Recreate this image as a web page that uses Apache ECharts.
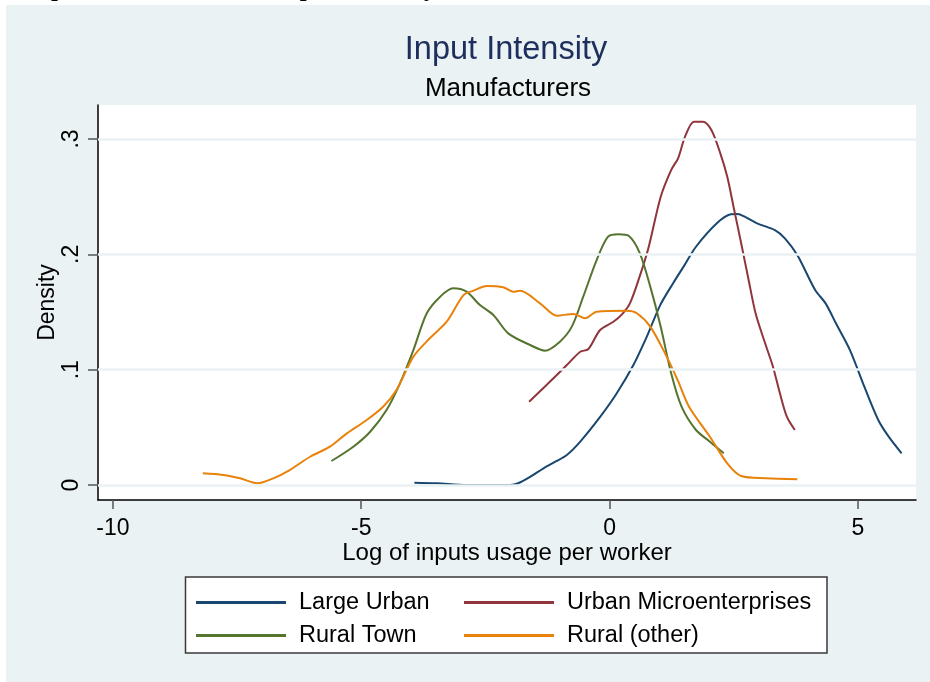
<!DOCTYPE html>
<html>
<head>
<meta charset="utf-8">
<script src="https://cdn.jsdelivr.net/npm/echarts@6/dist/echarts.min.js"></script>
<style>html,body{margin:0;padding:0;background:#fff}#c{width:930px;height:682px}</style>
</head>
<body>
<div id="c"></div>
<script>
const xTicks = [-10, -5, 0, 5];
const yTicks = [0, 0.1, 0.2, 0.3];
const seriesNames = ['Large Urban', 'Urban Microenterprises', 'Rural Town', 'Rural (other)'];
const seriesColors = ['#1A476F', '#90353B', '#55752F', '#E8820A'];

const largeUrban = [[-3.93,0.002],[-3.48,0.0015],[-2.88,0.0],[-2.4,0.0],[-2.0,0.0],[-1.84,0.0015],[-1.6,0.007],[-1.33,0.0145],[-1.1,0.02],[-0.86,0.026],[-0.59,0.0376],[-0.19,0.059],[0.145,0.0795],[0.48,0.104],[0.75,0.1286],[1.02,0.156],[1.28,0.175],[1.5,0.19],[1.74,0.2066],[2.16,0.2269],[2.44,0.2347],[2.58,0.235],[2.72,0.2327],[2.97,0.2269],[3.33,0.2211],[3.53,0.2139],[3.78,0.1994],[4.14,0.169],[4.35,0.1575],[4.56,0.140],[4.84,0.117],[5.13,0.0852],[5.41,0.0564],[5.62,0.0419],[5.88,0.0275]];
const urbanMicro = [[-1.62,0.0722],[-1.13,0.0925],[-0.86,0.104],[-0.59,0.1156],[-0.43,0.1177],[-0.19,0.1344],[0.077,0.1416],[0.25,0.148],[0.41,0.1575],[0.6,0.18],[0.78,0.205],[1.03,0.25],[1.24,0.2731],[1.38,0.2833],[1.52,0.302],[1.70,0.315],[1.88,0.315],[2.05,0.3078],[2.23,0.2876],[2.37,0.2673],[2.51,0.2384],[2.65,0.2096],[2.80,0.1778],[2.94,0.1489],[3.11,0.1257],[3.29,0.1026],[3.43,0.0795],[3.57,0.0592],[3.73,0.0477]];
const ruralTown = [[-5.60,0.0208],[-5.16,0.0332],[-4.82,0.0462],[-4.49,0.065],[-4.22,0.0882],[-3.95,0.117],[-3.68,0.1489],[-3.41,0.1633],[-3.15,0.1705],[-2.88,0.1676],[-2.61,0.156],[-2.34,0.1474],[-2.04,0.1315],[-1.60,0.1214],[-1.30,0.1165],[-1.0,0.1243],[-0.76,0.1373],[-0.53,0.1633],[-0.26,0.195],[-0.03,0.2153],[0.18,0.2174],[0.39,0.2159],[0.61,0.2009],[0.82,0.172],[1.03,0.1373],[1.24,0.0969],[1.45,0.0679],[1.74,0.0477],[2.02,0.0376],[2.30,0.0275]];
const ruralOther = [[-8.19,0.0101],[-7.78,0.0087],[-7.44,0.0058],[-7.09,0.0015],[-6.77,0.0058],[-6.44,0.013],[-6.03,0.0245],[-5.63,0.0332],[-5.29,0.0448],[-4.89,0.0564],[-4.56,0.0679],[-4.29,0.0824],[-3.95,0.1113],[-3.62,0.1272],[-3.28,0.1416],[-2.94,0.1647],[-2.74,0.1685],[-2.47,0.1725],[-2.14,0.1714],[-1.94,0.1676],[-1.80,0.1685],[-1.40,0.1575],[-1.06,0.1468],[-0.73,0.1483],[-0.49,0.1445],[-0.26,0.1503],[0.35,0.1511],[0.55,0.1489],[0.82,0.1373],[1.15,0.1113],[1.38,0.09],[1.60,0.0679],[2.02,0.0419],[2.37,0.0188],[2.65,0.0078],[3.15,0.0058],[3.78,0.0049]];

const seriesData = [largeUrban, urbanMicro, ruralTown, ruralOther];
const FONT = "'Liberation Sans', Arial, sans-serif";

const chart = echarts.init(document.getElementById('c'), null, {renderer: 'canvas'});

const lineSeries = seriesNames.map((n, i) => ({
  name: n, type: 'line', data: seriesData[i], showSymbol: false, smooth: 0.3,
  lineStyle: {color: seriesColors[i], width: 2}, itemStyle: {color: seriesColors[i]},
  z: 3, silent: true
}));

const legendText = {fontFamily: FONT, fontSize: 23.5, color: '#000', lineHeight: 25, padding: [0, 0, 0, 8]};

const option = {
  backgroundColor: '#EAF2F3',
  animation: false,
  graphic: [
    {type: 'rect', shape: {x: 0, y: 0, width: 930, height: 5}, style: {fill: '#fff'}, silent: true},
    {type: 'rect', shape: {x: 0, y: 0, width: 6, height: 682}, style: {fill: '#fff'}, silent: true},
    {type: 'text', x: 8, y: 2, style: {text: 'Graph 5: Distribution of Input Intensity', font: "bold 25px 'Liberation Serif', 'Times New Roman', serif", fill: '#000', verticalAlign: 'bottom'}, silent: true},
    {type: 'text', x: 506, y: 50, style: {text: 'Input Intensity', font: "32.5px " + FONT, fill: '#1E2F5E', align: 'center', verticalAlign: 'middle'}, silent: true},
    {type: 'text', x: 508, y: 89, style: {text: 'Manufacturers', font: "26px " + FONT, fill: '#000', align: 'center', verticalAlign: 'middle'}, silent: true},
    {type: 'rect', shape: {x: 185.5, y: 577, width: 641.5, height: 76}, style: {fill: '#fff', stroke: '#3a3a3a', lineWidth: 1.5}, silent: true, z: 3}
  ],
  grid: {left: 98, right: 14, top: 105, bottom: 182, show: true, backgroundColor: '#fff', borderWidth: 0},
  legend: [
    {data: [seriesNames[0], seriesNames[2]], orient: 'vertical', left: 196, top: 590, padding: 0, itemWidth: 90, itemHeight: 3, icon: 'rect', itemGap: 8, selectedMode: false, textStyle: legendText},
    {data: [seriesNames[1], seriesNames[3]], orient: 'vertical', left: 464, top: 590, padding: 0, itemWidth: 90, itemHeight: 3, icon: 'rect', itemGap: 8, selectedMode: false, textStyle: legendText}
  ],
  xAxis: {
    type: 'value', min: -10.3, max: 6.17,
    name: 'Log of inputs usage per worker', nameLocation: 'middle', nameGap: 41, nameMoveOverlap: false,
    nameTextStyle: {fontFamily: FONT, fontSize: 24, color: '#000'},
    axisLine: {show: true, onZero: false, lineStyle: {color: '#000', width: 1.5}},
    axisTick: {show: true, length: 9, customValues: xTicks, lineStyle: {color: '#555', width: 1.5}},
    axisLabel: {customValues: xTicks, margin: 17, fontFamily: FONT, fontSize: 23, color: '#000', formatter: v => String(v)},
    splitLine: {show: false}
  },
  yAxis: {
    type: 'value', min: -0.013, max: 0.3295,
    name: 'Density', nameLocation: 'middle', nameGap: 39, nameMoveOverlap: false,
    nameTextStyle: {fontFamily: FONT, fontSize: 23, color: '#000'},
    axisLine: {show: true, onZero: false, lineStyle: {color: '#000', width: 1.5}},
    axisTick: {show: true, length: 10, customValues: yTicks, lineStyle: {color: '#555', width: 1.5}},
    axisLabel: {customValues: yTicks, rotate: 90, margin: 15, fontFamily: FONT, fontSize: 23, color: '#000',
      formatter: v => (Math.abs(v) < 1e-9 ? '0' : String(+v.toFixed(2)).replace(/^0/, ''))},
    splitLine: {show: false}
  },
  series: [
    {type: 'line', data: [], silent: true, z: 1,
     markLine: {silent: true, symbol: 'none', label: {show: false}, lineStyle: {color: '#EAF2F3', width: 2.5, type: 'solid'},
       data: yTicks.map(v => ({yAxis: v}))}}
  ].concat(lineSeries)
};
chart.setOption(option);
</script>
</body>
</html>
